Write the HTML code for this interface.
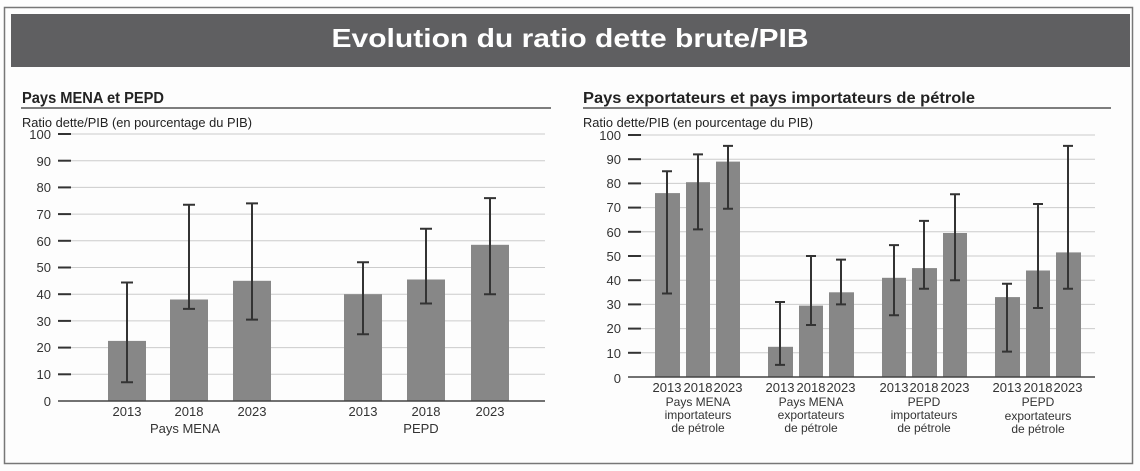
<!DOCTYPE html>
<html><head><meta charset="utf-8"><style>
html,body{margin:0;padding:0;background:#fff;}
svg{display:block;font-family:"Liberation Sans",Arial,sans-serif;}
</style></head><body>
<svg width="1140" height="471" viewBox="0 0 1140 471" xmlns="http://www.w3.org/2000/svg">
<rect x="0" y="0" width="1140" height="471" fill="#fdfdfd"/>
<rect x="4.5" y="7.5" width="1128" height="456" fill="none" stroke="#777" stroke-width="1.5"/>
<rect x="11" y="14" width="1119" height="53" fill="#5f5f61"/>
<text x="570" y="47" text-anchor="middle" font-size="26" font-weight="bold" fill="#fff" textLength="477" lengthAdjust="spacingAndGlyphs">Evolution du ratio dette brute/PIB</text>

<!-- LEFT -->
<text x="22" y="103" font-size="16" font-weight="bold" fill="#222" textLength="142" lengthAdjust="spacingAndGlyphs">Pays MENA et PEPD</text>
<line x1="21" y1="108" x2="551" y2="108" stroke="#333" stroke-width="1.2"/>
<text x="22" y="127" font-size="12.5" fill="#222" textLength="230" lengthAdjust="spacingAndGlyphs">Ratio dette/PIB (en pourcentage du PIB)</text>
<g id="lg" font-size="13" fill="#333" text-anchor="end">
</g>
<g stroke="#ccc" stroke-width="1">
<line x1="58" x2="545" y1="134" y2="134"/><line x1="58" x2="545" y1="160.7" y2="160.7"/><line x1="58" x2="545" y1="187.4" y2="187.4"/><line x1="58" x2="545" y1="214.1" y2="214.1"/><line x1="58" x2="545" y1="240.8" y2="240.8"/><line x1="58" x2="545" y1="267.5" y2="267.5"/><line x1="58" x2="545" y1="294.2" y2="294.2"/><line x1="58" x2="545" y1="320.9" y2="320.9"/><line x1="58" x2="545" y1="347.6" y2="347.6"/><line x1="58" x2="545" y1="374.3" y2="374.3"/>
</g>
<g stroke="#333" stroke-width="2">
<line x1="58" x2="71" y1="134" y2="134"/><line x1="58" x2="71" y1="160.7" y2="160.7"/><line x1="58" x2="71" y1="187.4" y2="187.4"/><line x1="58" x2="71" y1="214.1" y2="214.1"/><line x1="58" x2="71" y1="240.8" y2="240.8"/><line x1="58" x2="71" y1="267.5" y2="267.5"/><line x1="58" x2="71" y1="294.2" y2="294.2"/><line x1="58" x2="71" y1="320.9" y2="320.9"/><line x1="58" x2="71" y1="347.6" y2="347.6"/><line x1="58" x2="71" y1="374.3" y2="374.3"/>
</g>
<g font-size="13" fill="#333" text-anchor="end">
<text x="51" y="139">100</text><text x="51" y="166">90</text><text x="51" y="192">80</text><text x="51" y="219">70</text><text x="51" y="246">60</text><text x="51" y="272">50</text><text x="51" y="299">40</text><text x="51" y="326">30</text><text x="51" y="352">20</text><text x="51" y="379">10</text><text x="51" y="406">0</text>
</g>
<g fill="#878787">
<rect x="108" y="340.9" width="38" height="60.1"/>
<rect x="170" y="299.5" width="38" height="101.5"/>
<rect x="233" y="280.8" width="38" height="120.2"/>
<rect x="344" y="294.2" width="38" height="106.8"/>
<rect x="407" y="279.5" width="38" height="121.5"/>
<rect x="471" y="244.8" width="38" height="156.2"/>
</g>
<line x1="58" x2="545" y1="401" y2="401" stroke="#444" stroke-width="1.5"/>
<g stroke="#333" stroke-width="2" fill="none">
<path d="M127 282.5V382.3M121 282.5h12M121 382.3h12"/>
<path d="M189 204.7V308.9M183 204.7h12M183 308.9h12"/>
<path d="M252 203.4V319.6M246 203.4h12M246 319.6h12"/>
<path d="M363 262.2V334.3M357 262.2h12M357 334.3h12"/>
<path d="M426 228.8V303.5M420 228.8h12M420 303.5h12"/>
<path d="M490 198.1V294.2M484 198.1h12M484 294.2h12"/>
</g>
<g font-size="13" fill="#333" text-anchor="middle">
<text x="127" y="416">2013</text><text x="189" y="416">2018</text><text x="252" y="416">2023</text>
<text x="363" y="416">2013</text><text x="426" y="416">2018</text><text x="490" y="416">2023</text>
<text x="185" y="433">Pays MENA</text><text x="421" y="433">PEPD</text>
</g>

<!-- RIGHT -->
<text x="583" y="103" font-size="16" font-weight="bold" fill="#222" textLength="392" lengthAdjust="spacingAndGlyphs">Pays exportateurs et pays importateurs de pétrole</text>
<line x1="583" y1="108" x2="1111" y2="108" stroke="#333" stroke-width="1.2"/>
<text x="583" y="127" font-size="12.5" fill="#222" textLength="230" lengthAdjust="spacingAndGlyphs">Ratio dette/PIB (en pourcentage du PIB)</text>
<g stroke="#ccc" stroke-width="1">
<line x1="628" x2="1095" y1="135" y2="135"/><line x1="628" x2="1095" y1="159.2" y2="159.2"/><line x1="628" x2="1095" y1="183.4" y2="183.4"/><line x1="628" x2="1095" y1="207.6" y2="207.6"/><line x1="628" x2="1095" y1="231.8" y2="231.8"/><line x1="628" x2="1095" y1="256" y2="256"/><line x1="628" x2="1095" y1="280.2" y2="280.2"/><line x1="628" x2="1095" y1="304.4" y2="304.4"/><line x1="628" x2="1095" y1="328.6" y2="328.6"/><line x1="628" x2="1095" y1="352.8" y2="352.8"/>
</g>
<g stroke="#333" stroke-width="2">
<line x1="628" x2="641" y1="135" y2="135"/><line x1="628" x2="641" y1="159.2" y2="159.2"/><line x1="628" x2="641" y1="183.4" y2="183.4"/><line x1="628" x2="641" y1="207.6" y2="207.6"/><line x1="628" x2="641" y1="231.8" y2="231.8"/><line x1="628" x2="641" y1="256" y2="256"/><line x1="628" x2="641" y1="280.2" y2="280.2"/><line x1="628" x2="641" y1="304.4" y2="304.4"/><line x1="628" x2="641" y1="328.6" y2="328.6"/><line x1="628" x2="641" y1="352.8" y2="352.8"/>
</g>
<g font-size="13" fill="#333" text-anchor="end">
<text x="621" y="140">100</text><text x="621" y="164">90</text><text x="621" y="188">80</text><text x="621" y="212">70</text><text x="621" y="237">60</text><text x="621" y="261">50</text><text x="621" y="285">40</text><text x="621" y="309">30</text><text x="621" y="333">20</text><text x="621" y="358">10</text><text x="621" y="383">0</text>
</g>
<g fill="#878787">
<rect x="655" y="193.1" width="25" height="183.9"/>
<rect x="686" y="182.2" width="24" height="194.8"/>
<rect x="716" y="161.6" width="24" height="215.4"/>
<rect x="768" y="346.8" width="25" height="30.2"/>
<rect x="799" y="305.6" width="24" height="71.4"/>
<rect x="829" y="292.3" width="25" height="84.7"/>
<rect x="882" y="277.8" width="24" height="99.2"/>
<rect x="912" y="268.1" width="25" height="108.9"/>
<rect x="943" y="233" width="24" height="144"/>
<rect x="995" y="297.1" width="25" height="79.9"/>
<rect x="1026" y="270.5" width="24" height="106.5"/>
<rect x="1056" y="252.4" width="25" height="124.6"/>
</g>
<line x1="628" x2="1095" y1="377" y2="377" stroke="#444" stroke-width="1.5"/>
<g stroke="#333" stroke-width="2" fill="none">
<path d="M667 171.3V293.5M662 171.3h10M662 293.5h10"/>
<path d="M698 154.4V229.4M693 154.4h10M693 229.4h10"/>
<path d="M728 145.9V208.8M723 145.9h10M723 208.8h10"/>
<path d="M780 302V364.9M775 302h10M775 364.9h10"/>
<path d="M811 256V325M806 256h10M806 325h10"/>
<path d="M841 259.6V304.4M836 259.6h10M836 304.4h10"/>
<path d="M894 245.1V315.3M889 245.1h10M889 315.3h10"/>
<path d="M924 220.9V288.7M919 220.9h10M919 288.7h10"/>
<path d="M955 194.3V280.2M950 194.3h10M950 280.2h10"/>
<path d="M1007 283.8V351.6M1002 283.8h10M1002 351.6h10"/>
<path d="M1038 204V308M1033 204h10M1033 308h10"/>
<path d="M1068 145.9V288.7M1063 145.9h10M1063 288.7h10"/>
</g>
<g font-size="13" fill="#333" text-anchor="middle">
<text x="667" y="392">2013</text><text x="698" y="392">2018</text><text x="728" y="392">2023</text>
<text x="780" y="392">2013</text><text x="811" y="392">2018</text><text x="841" y="392">2023</text>
<text x="894" y="392">2013</text><text x="924" y="392">2018</text><text x="955" y="392">2023</text>
<text x="1007" y="392">2013</text><text x="1038" y="392">2018</text><text x="1068" y="392">2023</text>
</g>
<g font-size="12" fill="#333" text-anchor="middle">
<text x="698" y="406">Pays MENA</text><text x="698" y="419">importateurs</text><text x="698" y="432">de pétrole</text>
<text x="811" y="406">Pays MENA</text><text x="811" y="419">exportateurs</text><text x="811" y="432">de pétrole</text>
<text x="924" y="406">PEPD</text><text x="924" y="419">importateurs</text><text x="924" y="432">de pétrole</text>
<text x="1038" y="406">PEPD</text><text x="1038" y="420">exportateurs</text><text x="1038" y="433">de pétrole</text>
</g>
</svg>
</body></html>
